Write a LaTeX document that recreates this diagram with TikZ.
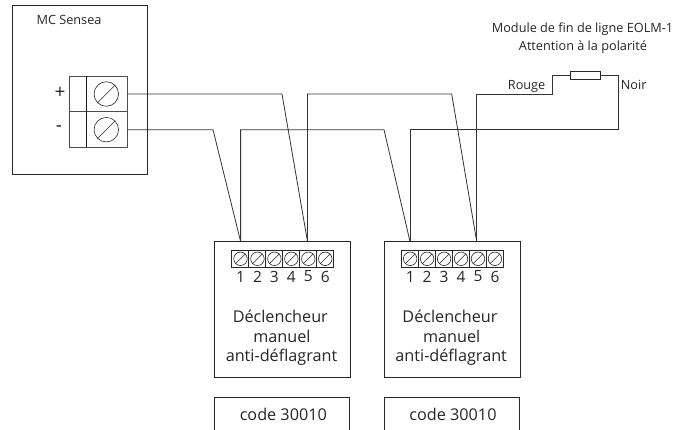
\documentclass[tikz,border=0pt]{standalone}
\usepackage{fontspec}
\setmainfont{Open Sans}
\tikzset{
  box/.style={draw=black!85,line width=.8pt,inner sep=0pt},
  wire/.style={draw=black!80,line width=.8pt,line join=miter},
  screw/.style={circle,draw=black!85,line width=.6pt,inner sep=0pt,minimum size=#1},
  lab/.style={font=\fontsize{#1}{#1}\selectfont,text=black!85,inner sep=0pt,align=center},
}
\begin{document}
\begin{tikzpicture}[x=1pt,y=-1pt]
\useasboundingbox (0,0) rectangle (673,430);
\draw[box] (12,5) rectangle (147,174);
\node[lab=12.7] (mc) at (69,20) {MC Sensea};
\node[box,draw=black!70,minimum width=58pt,minimum height=71pt] (term) at (98,111.5) {};
\draw[box,draw=black!70] (69,111) -- (127,111);
\draw[line width=1.3pt,black!90] (86.7,76) -- (86.7,147);
\node[lab=19] (plus) at (60,92.5) {+};
\node[lab=19] (minus) at (59,129) {-};
\foreach \n/\y in {p/94,m/129.7}{
  \node[screw=24.5pt] (s\n) at (106.3,\y) {};
  \draw[black!85,line width=.6pt] (s\n.45) -- (s\n.225);
}
% devices
\foreach \k/\x in {a/214.3,b/384}{
  \node[box,minimum width=135.5pt,minimum height=135.5pt,anchor=north west] (d\k) at (\x,241.5) {};
  \draw[box,line width=.7pt] (\x+17.4,250) rectangle ++(101.6,17.5);
  \foreach \i in {1,...,6}{
    \node[screw=13.5pt] (c\k\i) at (\x+26.2+16.95*\i-16.95,258.8) {};
    \draw[black!85,line width=.5pt] (c\k\i.45) -- (c\k\i.225);
    \node[lab=15.5] (n\k\i) at (\x+26.2+16.95*\i-16.95,276.5) {\i};
    \ifnum\i<6 \draw[black!85,line width=.5pt] (\x+17.4+16.93*\i,250) -- (\x+17.4+16.93*\i,267.5);\fi
  }
  \node[lab=16.2] (t\k a) at (\x+66,316) {Déclencheur};
  \node[lab=16.2] (t\k b) at (\x+67.7,336.5) {manuel};
  \node[lab=16.2] (t\k c) at (\x+67.2,357) {anti-déflagrant};
  \draw[box] (\x,431) |- (\x+135.5,397.8) -- (\x+135.5,431);
  \node[lab=16.2] (code\k) at (\x+69,414.3) {code 30010};
}
% header
\node[lab=12.7] (h1) at (582.5,29.5) {Module de fin de ligne EOLM-1};
\node[lab=12.7] (h2) at (583,46.7) {Attention à la polarité};
\node[lab=12.7,anchor=west] (rouge) at (507.7,86) {Rouge};
\node[lab=12.7,anchor=west] (noir) at (620.7,85) {Noir};
% resistor
\node[draw=black!85,line width=.8pt,inner sep=0pt,minimum width=29.8pt,minimum height=7.5pt] (res) at (585.6,75.5) {};
% wire end points on the device tops
\coordinate (aL) at (240.6,241.5);
\coordinate (aR) at (307.5,241.5);
\coordinate (bL) at (410,241.5);
\coordinate (bR) at (476.7,241.5);
\coordinate (tp) at (127,94);
\coordinate (tm) at (127,129.7);
% wires
\draw[wire] (tp) -- (282,94) -- (aR);
\draw[wire] (tm) -- (213,129.7) -- (aL);
\draw[wire] (aL) -- (240.6,129.7) -- (384,129.7) -- (bL);
\draw[wire] (aR) -- (307.5,94) -- (451.7,94) -- (bR);
\draw[wire] (bR) -- (476.7,94) -- (552.7,94) -- (552.7,75.5) -- (res.west);
\draw[wire] (bL) -- (410,129.7) -- (618,129.7) -- (618,75.5) -- (res.east);
\end{tikzpicture}
\end{document}
